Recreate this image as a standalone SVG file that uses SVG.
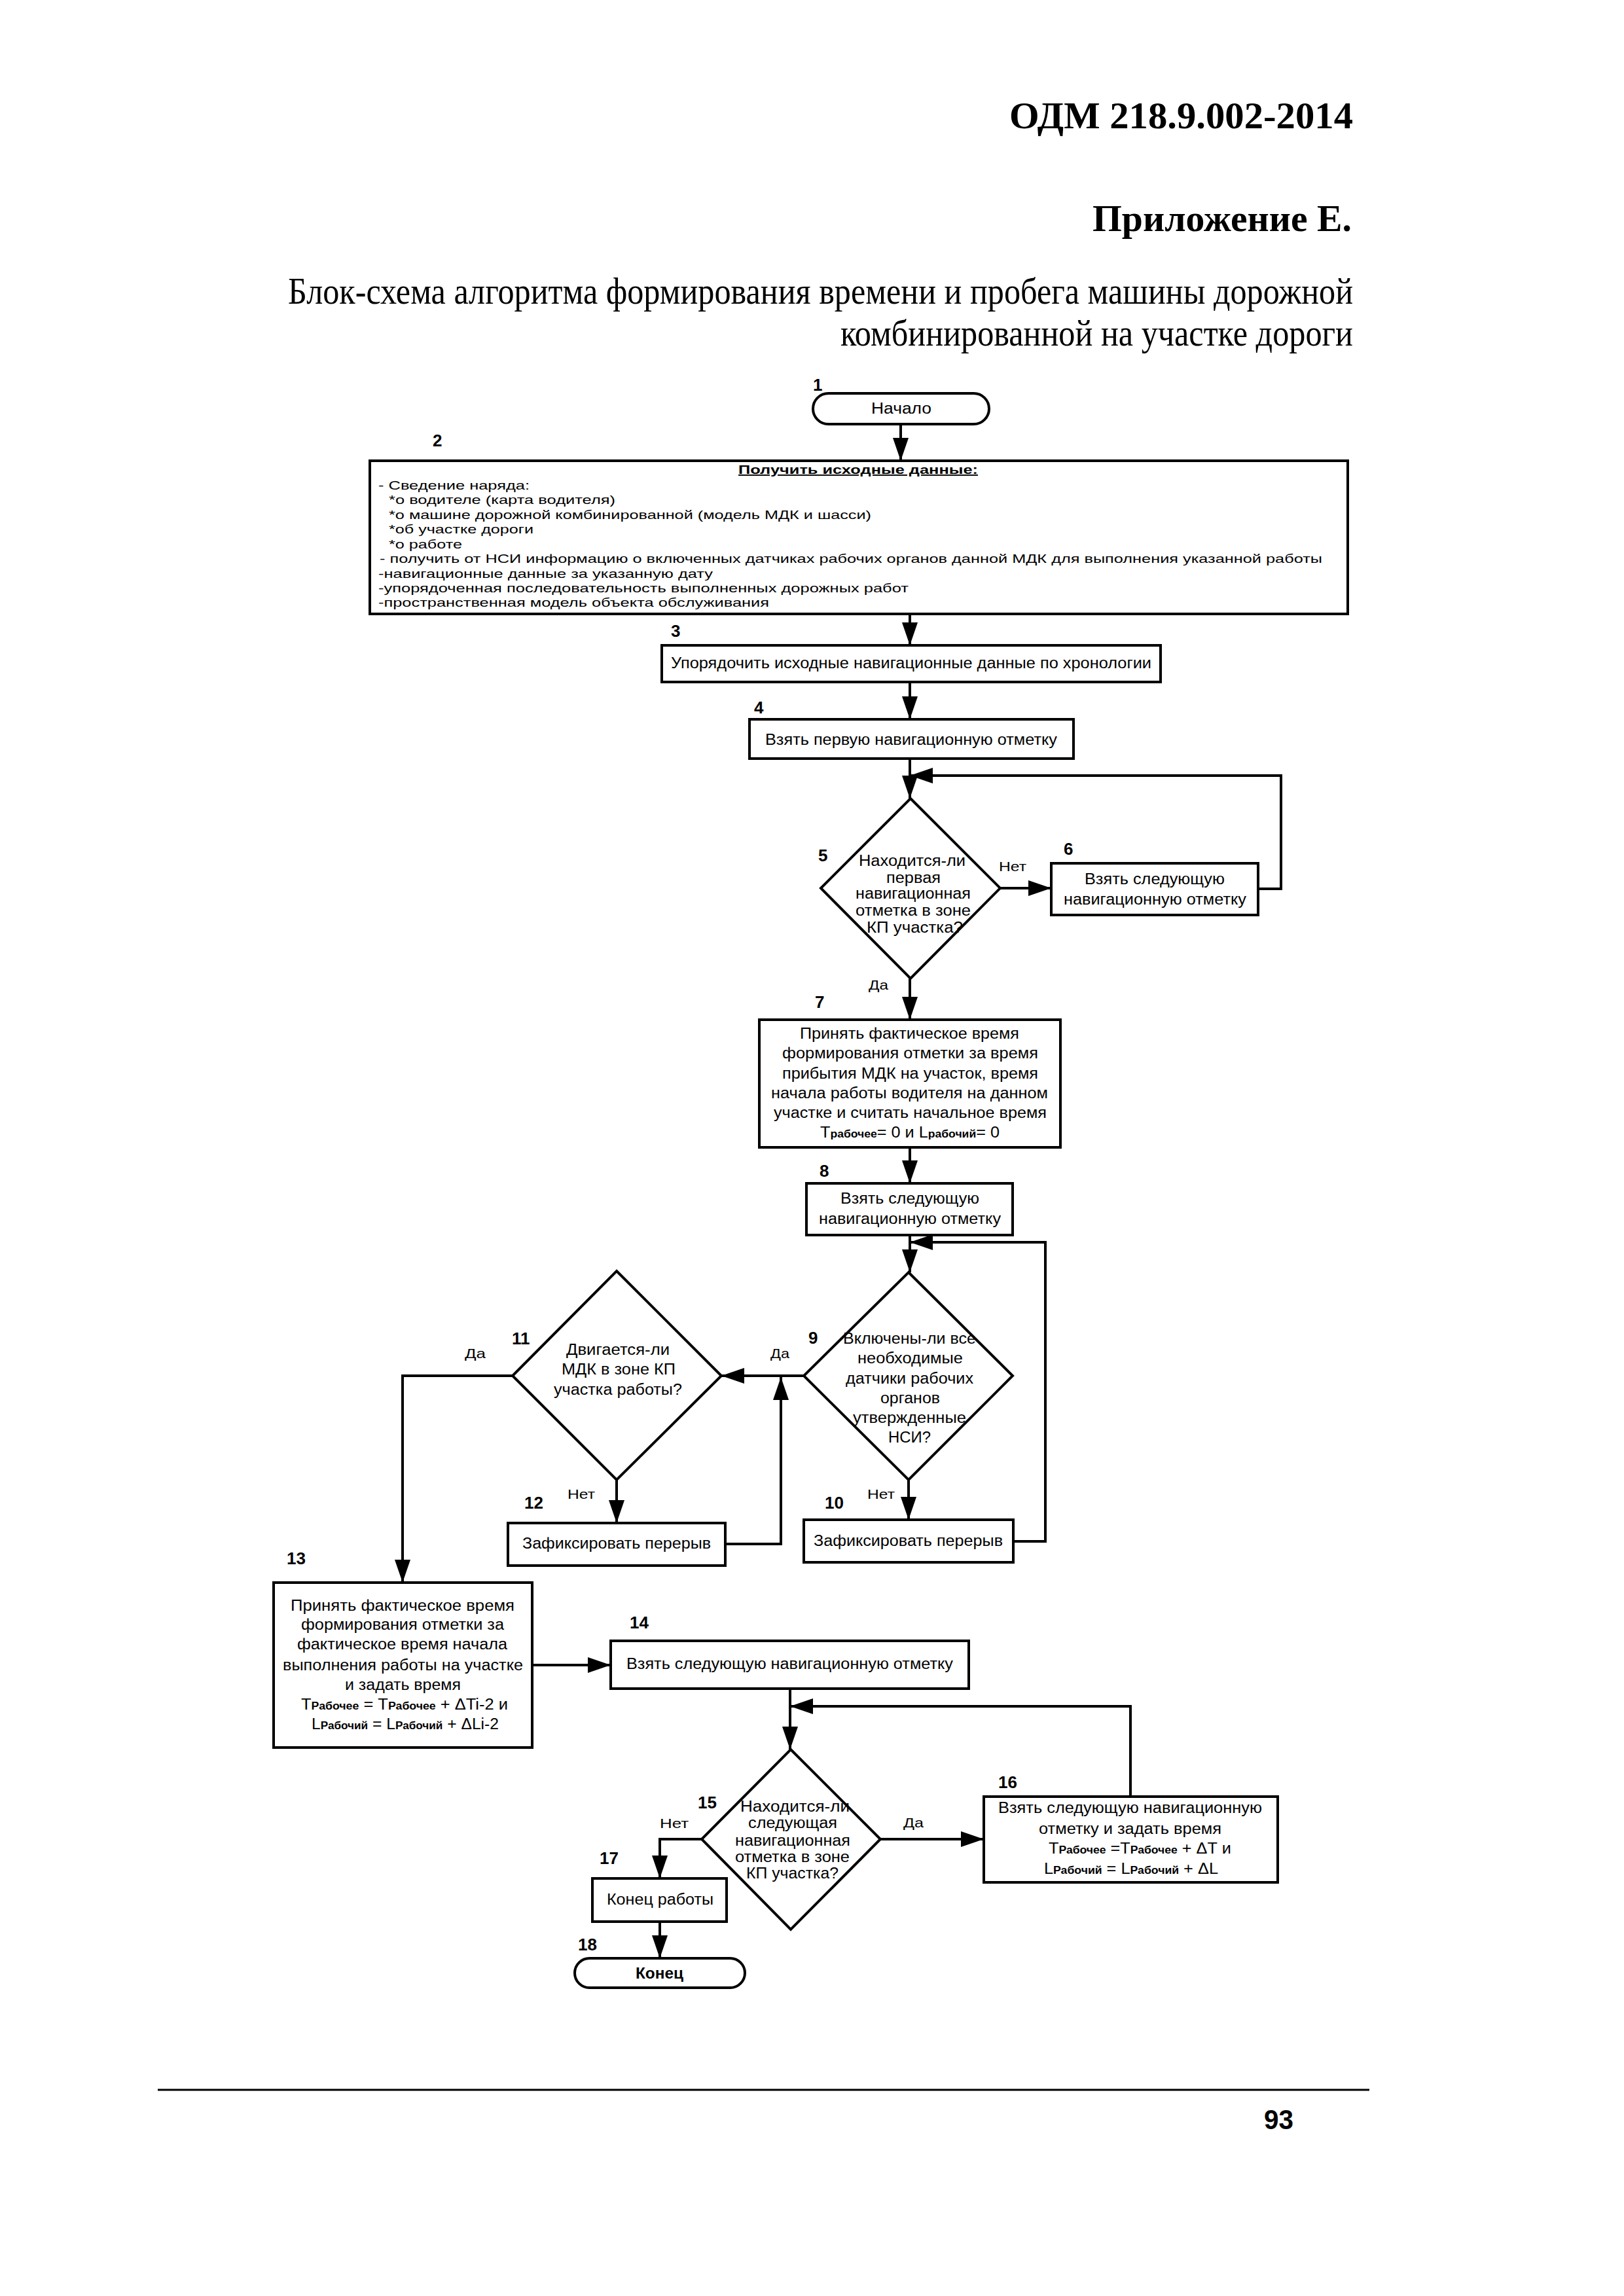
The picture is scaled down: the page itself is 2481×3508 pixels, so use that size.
<svg xmlns="http://www.w3.org/2000/svg" width="2481" height="3508" viewBox="0 0 2481 3508">
<style>
.bg{fill:#ffffff}
.shape{fill:#ffffff;stroke:#000;stroke-width:4}
.ln{fill:none;stroke:#000;stroke-width:4}
.t{font-family:"Liberation Sans",Arial,sans-serif;font-size:23px;fill:#000}
.t2{font-family:"Liberation Sans",Arial,sans-serif;font-size:19px;fill:#000}
.yn{font-family:"Liberation Sans",Arial,sans-serif;font-size:21px;fill:#000}
.num{font-family:"Liberation Sans",Arial,sans-serif;font-size:26px;font-weight:bold;fill:#000}
.pg{font-family:"Liberation Sans",Arial,sans-serif;font-size:43px;font-weight:bold;fill:#000}
.sub{font-size:16px;font-weight:bold}
.hd{font-family:"Liberation Serif","Times New Roman",serif;font-size:58px;fill:#000}
.b{font-weight:bold}
</style>
<defs>
<marker id="ah" markerUnits="userSpaceOnUse" markerWidth="36" markerHeight="24" refX="35" refY="12" orient="auto">
<path d="M0,0 L35,12 L0,24 z" fill="#000"/>
</marker>
</defs>
<rect class="bg" x="0" y="0" width="2481" height="3508"/>

<g id="header">
<text class="hd b" x="1542" y="196" textLength="525" lengthAdjust="spacingAndGlyphs">ОДМ 218.9.002-2014</text>
<text class="hd b" x="1669" y="353" textLength="396" lengthAdjust="spacingAndGlyphs">Приложение Е.</text>
<text class="hd" x="440" y="464" textLength="1627" lengthAdjust="spacingAndGlyphs">Блок-схема алгоритма формирования времени и пробега машины дорожной</text>
<text class="hd" x="1284" y="528" textLength="783" lengthAdjust="spacingAndGlyphs">комбинированной на участке дороги</text>
</g>

<g id="connectors">
<line class="ln" x1="1376" y1="648" x2="1376" y2="704" marker-end="url(#ah)"/>
<line class="ln" x1="1390" y1="938" x2="1390" y2="986" marker-end="url(#ah)"/>
<line class="ln" x1="1390" y1="1042" x2="1390" y2="1099" marker-end="url(#ah)"/>
<line class="ln" x1="1390" y1="1159" x2="1390" y2="1220" marker-end="url(#ah)"/>
<line class="ln" x1="1528" y1="1357" x2="1606" y2="1357" marker-end="url(#ah)"/>
<polyline class="ln" points="1922,1358 1957,1358 1957,1185 1390,1185" marker-end="url(#ah)"/>
<line class="ln" x1="1390" y1="1495" x2="1390" y2="1558" marker-end="url(#ah)"/>
<line class="ln" x1="1390" y1="1753" x2="1390" y2="1808" marker-end="url(#ah)"/>
<line class="ln" x1="1390" y1="1887" x2="1390" y2="1944" marker-end="url(#ah)"/>
<line class="ln" x1="1228" y1="2102" x2="1102" y2="2102" marker-end="url(#ah)"/>
<line class="ln" x1="1388" y1="2261" x2="1388" y2="2322" marker-end="url(#ah)"/>
<polyline class="ln" points="1548,2355 1597,2355 1597,1898 1390,1898" marker-end="url(#ah)"/>
<line class="ln" x1="942" y1="2261" x2="942" y2="2327" marker-end="url(#ah)"/>
<polyline class="ln" points="1108,2359 1193,2359 1193,2104" marker-end="url(#ah)"/>
<polyline class="ln" points="783,2102 615,2102 615,2418" marker-end="url(#ah)"/>
<line class="ln" x1="813" y1="2544" x2="933" y2="2544" marker-end="url(#ah)"/>
<line class="ln" x1="1207" y1="2580" x2="1207" y2="2673" marker-end="url(#ah)"/>
<polyline class="ln" points="1727,2745 1727,2607 1207,2607" marker-end="url(#ah)"/>
<line class="ln" x1="1345" y1="2810" x2="1503" y2="2810" marker-end="url(#ah)"/>
<polyline class="ln" points="1072,2810 1008,2810 1008,2870" marker-end="url(#ah)"/>
<line class="ln" x1="1008" y1="2936" x2="1008" y2="2992" marker-end="url(#ah)"/>
<text class="yn" x="1526" y="1331" textLength="42" lengthAdjust="spacingAndGlyphs">Нет</text>
<text class="yn" x="1327" y="1512" textLength="30" lengthAdjust="spacingAndGlyphs">Да</text>
<text class="yn" x="1177" y="2075" textLength="29" lengthAdjust="spacingAndGlyphs">Да</text>
<text class="yn" x="710" y="2075" textLength="32" lengthAdjust="spacingAndGlyphs">Да</text>
<text class="yn" x="867" y="2290" textLength="42" lengthAdjust="spacingAndGlyphs">Нет</text>
<text class="yn" x="1325" y="2290" textLength="42" lengthAdjust="spacingAndGlyphs">Нет</text>
<text class="yn" x="1008" y="2793" textLength="44" lengthAdjust="spacingAndGlyphs">Нет</text>
<text class="yn" x="1380" y="2792" textLength="31" lengthAdjust="spacingAndGlyphs">Да</text>
</g>

<g id="n1">
<rect class="shape" x="1242" y="601" width="269" height="47" rx="23.5"/>
<text class="t" x="1331" y="632" textLength="92" lengthAdjust="spacingAndGlyphs">Начало</text>
<text class="num" x="1242" y="597">1</text>
</g>

<g id="n2">
<rect class="shape" x="565" y="704" width="1494" height="234"/>
<text class="num" x="661" y="682">2</text>
<text class="t2 b" x="1128" y="724" text-decoration="underline" textLength="366" lengthAdjust="spacingAndGlyphs">Получить исходные данные:</text>
<text class="t2" x="578" y="748" textLength="231" lengthAdjust="spacingAndGlyphs">- Сведение наряда:</text>
<text class="t2" x="594" y="770" textLength="346" lengthAdjust="spacingAndGlyphs">*о водителе (карта водителя)</text>
<text class="t2" x="594" y="793" textLength="737" lengthAdjust="spacingAndGlyphs">*о машине дорожной комбинированной (модель МДК и шасси)</text>
<text class="t2" x="594" y="815" textLength="221" lengthAdjust="spacingAndGlyphs">*об участке дороги</text>
<text class="t2" x="594" y="838" textLength="112" lengthAdjust="spacingAndGlyphs">*о работе</text>
<text class="t2" x="580" y="860" textLength="1440" lengthAdjust="spacingAndGlyphs">- получить от НСИ информацию о включенных датчиках рабочих органов данной МДК для выполнения указанной работы</text>
<text class="t2" x="578" y="883" textLength="511" lengthAdjust="spacingAndGlyphs">-навигационные данные за указанную дату</text>
<text class="t2" x="578" y="905" textLength="810" lengthAdjust="spacingAndGlyphs">-упорядоченная последовательность выполненных дорожных работ</text>
<text class="t2" x="578" y="927" textLength="597" lengthAdjust="spacingAndGlyphs">-пространственная модель объекта обслуживания</text>
</g>

<g id="n3">
<rect class="shape" x="1011" y="986" width="762" height="56"/>
<text class="num" x="1025" y="973">3</text>
<text class="t" x="1025" y="1021" textLength="734" lengthAdjust="spacingAndGlyphs">Упорядочить исходные навигационные данные по хронологии</text>
</g>

<g id="n4">
<rect class="shape" x="1145" y="1099" width="495" height="60"/>
<text class="num" x="1152" y="1090">4</text>
<text class="t" x="1169" y="1138" textLength="446" lengthAdjust="spacingAndGlyphs">Взять первую навигационную отметку</text>
</g>

<g id="n5">
<polygon class="shape" points="1391,1220 1528,1357 1391,1495 1254,1357"/>
<text class="num" x="1250" y="1316">5</text>
<text class="t" x="1312" y="1323" textLength="163" lengthAdjust="spacingAndGlyphs">Находится-ли</text>
<text class="t" x="1354" y="1349" textLength="83" lengthAdjust="spacingAndGlyphs">первая</text>
<text class="t" x="1307" y="1373" textLength="176" lengthAdjust="spacingAndGlyphs">навигационная</text>
<text class="t" x="1307" y="1399" textLength="176" lengthAdjust="spacingAndGlyphs">отметка в зоне</text>
<text class="t" x="1324" y="1425" textLength="147" lengthAdjust="spacingAndGlyphs">КП участка?</text>
</g>

<g id="n6">
<rect class="shape" x="1606" y="1319" width="316" height="79"/>
<text class="num" x="1625" y="1306">6</text>
<text class="t" x="1657" y="1351" textLength="214" lengthAdjust="spacingAndGlyphs">Взять следующую</text>
<text class="t" x="1625" y="1382" textLength="279" lengthAdjust="spacingAndGlyphs">навигационную отметку</text>
</g>

<g id="n7">
<rect class="shape" x="1160" y="1558" width="460" height="195"/>
<text class="num" x="1245" y="1540">7</text>
<text class="t" x="1222" y="1587" textLength="335" lengthAdjust="spacingAndGlyphs">Принять фактическое время</text>
<text class="t" x="1195" y="1617" textLength="391" lengthAdjust="spacingAndGlyphs">формирования отметки за время</text>
<text class="t" x="1195" y="1648" textLength="391" lengthAdjust="spacingAndGlyphs">прибытия МДК на участок, время</text>
<text class="t" x="1178" y="1678" textLength="423" lengthAdjust="spacingAndGlyphs">начала работы водителя на данном</text>
<text class="t" x="1182" y="1708" textLength="417" lengthAdjust="spacingAndGlyphs">участке и считать начальное время</text>
<text class="t" x="1253" y="1738" textLength="274" lengthAdjust="spacingAndGlyphs">T<tspan class="sub">рабочее</tspan>= 0 и L<tspan class="sub">рабочий</tspan>= 0</text>
</g>

<g id="n8">
<rect class="shape" x="1232" y="1808" width="315" height="79"/>
<text class="num" x="1252" y="1798">8</text>
<text class="t" x="1284" y="1839" textLength="212" lengthAdjust="spacingAndGlyphs">Взять следующую</text>
<text class="t" x="1251" y="1870" textLength="278" lengthAdjust="spacingAndGlyphs">навигационную отметку</text>
</g>

<g id="n9">
<polygon class="shape" points="1388,1944 1547,2102 1388,2261 1228,2102"/>
<text class="num" x="1235" y="2053">9</text>
<text class="t" x="1288" y="2053" textLength="203" lengthAdjust="spacingAndGlyphs">Включены-ли все</text>
<text class="t" x="1310" y="2083" textLength="161" lengthAdjust="spacingAndGlyphs">необходимые</text>
<text class="t" x="1292" y="2114" textLength="195" lengthAdjust="spacingAndGlyphs">датчики рабочих</text>
<text class="t" x="1345" y="2144" textLength="91" lengthAdjust="spacingAndGlyphs">органов</text>
<text class="t" x="1303" y="2174" textLength="173" lengthAdjust="spacingAndGlyphs">утвержденные</text>
<text class="t" x="1357" y="2204" textLength="65" lengthAdjust="spacingAndGlyphs">НСИ?</text>
</g>

<g id="n10">
<rect class="shape" x="1228" y="2322" width="320" height="65"/>
<text class="num" x="1260" y="2305">10</text>
<text class="t" x="1243" y="2362" textLength="289" lengthAdjust="spacingAndGlyphs">Зафиксировать перерыв</text>
</g>

<g id="n11">
<polygon class="shape" points="942,1942 1102,2102 942,2261 783,2102"/>
<text class="num" x="782" y="2054">11</text>
<text class="t" x="865" y="2070" textLength="158" lengthAdjust="spacingAndGlyphs">Двигается-ли</text>
<text class="t" x="858" y="2100" textLength="174" lengthAdjust="spacingAndGlyphs">МДК в зоне КП</text>
<text class="t" x="846" y="2131" textLength="196" lengthAdjust="spacingAndGlyphs">участка работы?</text>
</g>

<g id="n12">
<rect class="shape" x="776" y="2327" width="332" height="65"/>
<text class="num" x="801" y="2305">12</text>
<text class="t" x="798" y="2366" textLength="288" lengthAdjust="spacingAndGlyphs">Зафиксировать перерыв</text>
</g>

<g id="n13">
<rect class="shape" x="418" y="2418" width="395" height="252"/>
<text class="num" x="438" y="2390">13</text>
<text class="t" x="444" y="2461" textLength="342" lengthAdjust="spacingAndGlyphs">Принять  фактическое время</text>
<text class="t" x="460" y="2490" textLength="310" lengthAdjust="spacingAndGlyphs">формирования отметки за</text>
<text class="t" x="454" y="2520" textLength="321" lengthAdjust="spacingAndGlyphs">фактическое время начала</text>
<text class="t" x="432" y="2552" textLength="367" lengthAdjust="spacingAndGlyphs">выполнения работы на участке</text>
<text class="t" x="527" y="2582" textLength="177" lengthAdjust="spacingAndGlyphs">и задать время</text>
<text class="t" x="460" y="2612" textLength="316" lengthAdjust="spacingAndGlyphs">Т<tspan class="sub">Рабочее</tspan> = Т<tspan class="sub">Рабочее</tspan> + ΔTi-2 и</text>
<text class="t" x="476" y="2642" textLength="286" lengthAdjust="spacingAndGlyphs">L<tspan class="sub">Рабочий</tspan> = L<tspan class="sub">Рабочий</tspan> + ΔLi-2</text>
</g>

<g id="n14">
<rect class="shape" x="933" y="2507" width="547" height="73"/>
<text class="num" x="962" y="2488">14</text>
<text class="t" x="957" y="2550" textLength="499" lengthAdjust="spacingAndGlyphs">Взять следующую навигационную отметку</text>
</g>

<g id="n15">
<polygon class="shape" points="1208,2673 1345,2810 1208,2948 1072,2810"/>
<text class="num" x="1066" y="2763">15</text>
<text class="t" x="1131" y="2768" textLength="167" lengthAdjust="spacingAndGlyphs">Находится-ли</text>
<text class="t" x="1143" y="2793" textLength="136" lengthAdjust="spacingAndGlyphs">следующая</text>
<text class="t" x="1123" y="2820" textLength="176" lengthAdjust="spacingAndGlyphs">навигационная</text>
<text class="t" x="1123" y="2845" textLength="175" lengthAdjust="spacingAndGlyphs">отметка в зоне</text>
<text class="t" x="1140" y="2870" textLength="141" lengthAdjust="spacingAndGlyphs">КП участка?</text>
</g>

<g id="n16">
<rect class="shape" x="1503" y="2745" width="449" height="131"/>
<text class="num" x="1525" y="2732">16</text>
<text class="t" x="1525" y="2770" textLength="403" lengthAdjust="spacingAndGlyphs">Взять следующую навигационную</text>
<text class="t" x="1587" y="2802" textLength="279" lengthAdjust="spacingAndGlyphs">отметку и задать время</text>
<text class="t" x="1602" y="2832" textLength="279" lengthAdjust="spacingAndGlyphs">Т<tspan class="sub">Рабочее</tspan> =Т<tspan class="sub">Рабочее</tspan> + ΔТ и</text>
<text class="t" x="1595" y="2863" textLength="266" lengthAdjust="spacingAndGlyphs">L<tspan class="sub">Рабочий</tspan> = L<tspan class="sub">Рабочий</tspan> +  ΔL</text>
</g>

<g id="n17">
<rect class="shape" x="905" y="2870" width="205" height="66"/>
<text class="num" x="916" y="2848">17</text>
<text class="t" x="927" y="2910" textLength="163" lengthAdjust="spacingAndGlyphs">Конец работы</text>
</g>

<g id="n18">
<rect class="shape" x="878" y="2992" width="260" height="45" rx="22.5"/>
<text class="num" x="883" y="2980">18</text>
<text class="t b" x="971" y="3023" textLength="73" lengthAdjust="spacingAndGlyphs">Конец</text>
</g>

<g id="footer">
<line x1="241" y1="3193" x2="2092" y2="3193" stroke="#000" stroke-width="3"/>
<text class="pg" x="1931" y="3253" textLength="45" lengthAdjust="spacingAndGlyphs">93</text>
</g>
</svg>
